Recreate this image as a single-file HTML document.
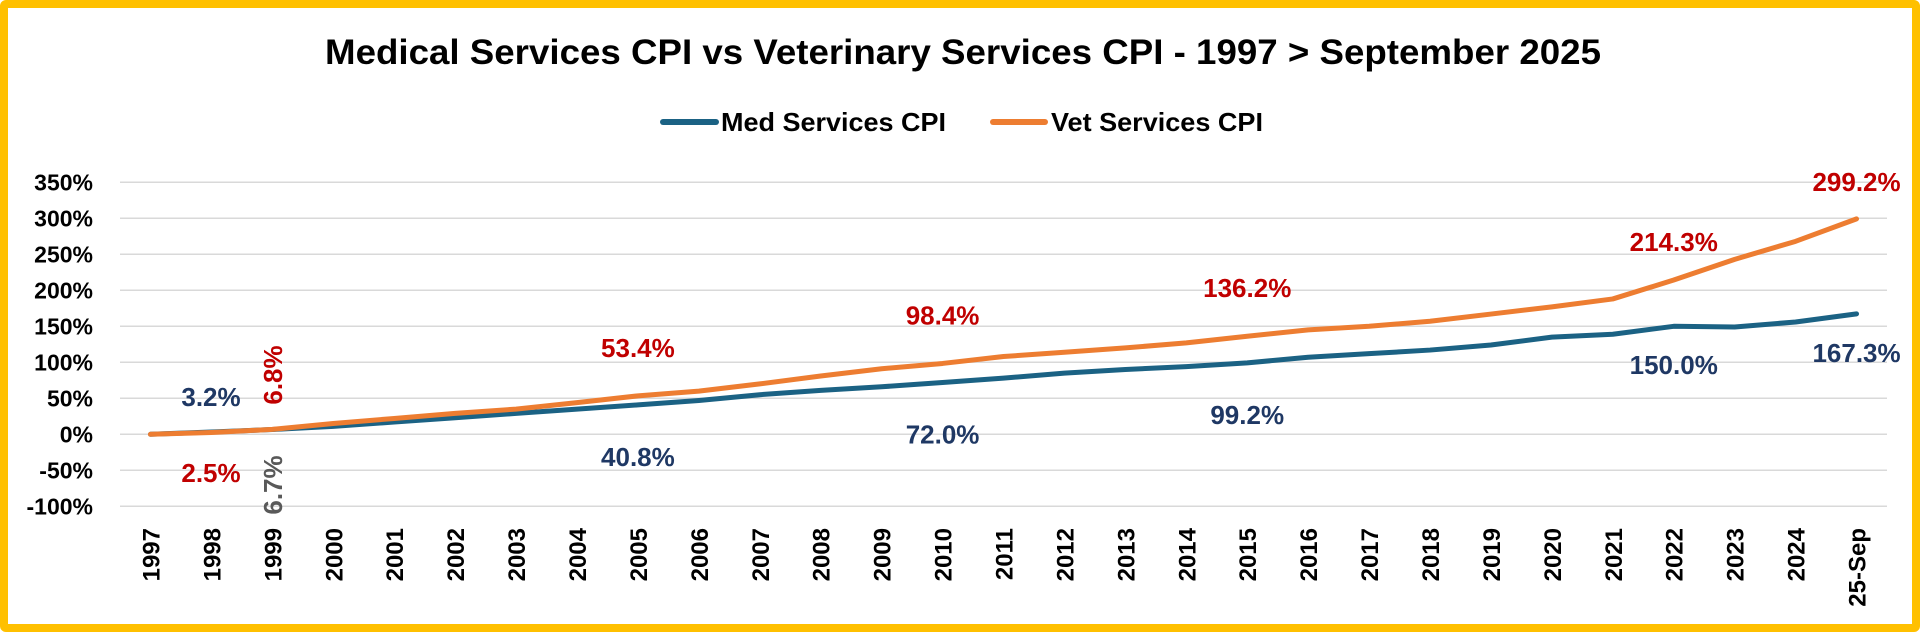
<!DOCTYPE html>
<html><head><meta charset="utf-8"><style>
html,body{margin:0;padding:0;background:#fff;}
#frame{position:absolute;left:0;top:0;width:1904px;height:616px;border:8px solid #FFC000;border-radius:6px;background:#fff;}
svg{position:absolute;left:0;top:0;}
text{font-family:"Liberation Sans",sans-serif;font-weight:bold;}
</style></head><body>
<div id="frame"></div>
<svg id="chart" width="1920" height="632"></svg>
<script>
const categories=["1997","1998","1999","2000","2001","2002","2003","2004","2005","2006","2007","2008","2009","2010","2011","2012","2013","2014","2015","2016","2017","2018","2019","2020","2021","2022","2023","2024","25-Sep"];
const medValues=[0,3.2,6.7,11,17,23,29,35,40.8,47,55,61,66,72,78,85,90,94,99.2,107,112,117,124,135,139,150,149,156,167.3];
const vetValues=[0,2.5,6.8,15,22,29,35,44,53.4,60,70,81,91,98.4,108,114,120,127,136.2,145,150,157,167,177,188,214.3,243,268,299.2];
const yTicks=[350,300,250,200,150,100,50,0,-50,-100];
const medLabelIdx=[8,13,18,25,28];
const vetLabelIdx=[8,13,18,25,28];

const NS="http://www.w3.org/2000/svg";
const svg=document.getElementById('chart');
const plotL=120,plotR=1887,y0=434.3,pxPer=36/50;
const step=(plotR-plotL)/categories.length;
function xPos(i){return plotL+step*(i+0.5);}
function yPos(v){return y0-v*pxPer;}
function mk(tag,attrs,txt){const e=document.createElementNS(NS,tag);for(const k in attrs)e.setAttribute(k,attrs[k]);if(txt!==undefined)e.textContent=txt;svg.appendChild(e);return e;}
function fmt(v){return v.toFixed(1)+"%";}

let t=mk('text',{x:963,y:64,'text-anchor':'middle','font-size':35,fill:'#000',textLength:1276,lengthAdjust:'spacingAndGlyphs'},"Medical Services CPI vs Veterinary Services CPI - 1997 > September 2025");



let l=mk('line',{x1:663,y1:122,x2:716,y2:122,stroke:'#1B6284','stroke-width':6,'stroke-linecap':'round'});


t=mk('text',{x:721,y:131,'font-size':26,fill:'#000',textLength:225,lengthAdjust:'spacingAndGlyphs'},"Med Services CPI");


l=mk('line',{x1:993,y1:122,x2:1045,y2:122,stroke:'#ED7D31','stroke-width':6,'stroke-linecap':'round'});


t=mk('text',{x:1051,y:131,'font-size':26,fill:'#000',textLength:212,lengthAdjust:'spacingAndGlyphs'},"Vet Services CPI");



yTicks.forEach(v=>{
  const g=mk('line',{x1:plotL,x2:plotR,y1:yPos(v),y2:yPos(v),stroke:'#d9d9d9','stroke-width':1.5});
  
  
  const tx=mk('text',{x:93,y:yPos(v)+8,'text-anchor':'end','font-size':23,fill:'#000'},v+"%");
  
  
});
categories.forEach((c,i)=>{
  const x=xPos(i);
  const tx=mk('text',{x:0,y:0,'text-anchor':'end','font-size':24,fill:'#000',transform:`translate(${x+9},528) rotate(-90)`},c);
  
  
});
function line(vals,color,name){
  const p=mk('polyline',{points:vals.map((v,i)=>xPos(i)+","+yPos(v)).join(" "),fill:'none',stroke:color,'stroke-width':5,'stroke-linejoin':'round','stroke-linecap':'round'});
  
  
}
line(medValues,'#1B6284','med-services-line');
line(vetValues,'#ED7D31','vet-services-line');

function lab(x,y,txt,color,name,rot){
  const a={x:x,y:y,'text-anchor':'middle','font-size':26,fill:color};
  if(rot){a.x=0;a.y=0;a.transform=`translate(${x+9},${y}) rotate(-90)`;}
  const e=mk('text',a,txt);
  
  
}
medLabelIdx.forEach(i=>{
  const v=medValues[i];
  let dy=i===28?-yPos(v)+353+9:(i===25?-yPos(v)+365+9:61);
  lab(xPos(i),yPos(v)+dy,fmt(v),'#1F3864','med-data-label');
});
vetLabelIdx.forEach(i=>{
  const v=vetValues[i];
  let dy=i===28?-yPos(v)+182+9:(i===25?-yPos(v)+242+9:-39);
  lab(xPos(i),yPos(v)+dy,fmt(v),'#C00000','vet-data-label');
});
lab(211,406,fmt(medValues[1]),'#1F3864','med-data-label');
lab(211,482,fmt(vetValues[1]),'#C00000','vet-data-label');
lab(273,375,fmt(vetValues[2]),'#C00000','vet-data-label',true);
lab(273,485,fmt(medValues[2]),'#595959','med-data-label',true);
</script>
</body></html>
